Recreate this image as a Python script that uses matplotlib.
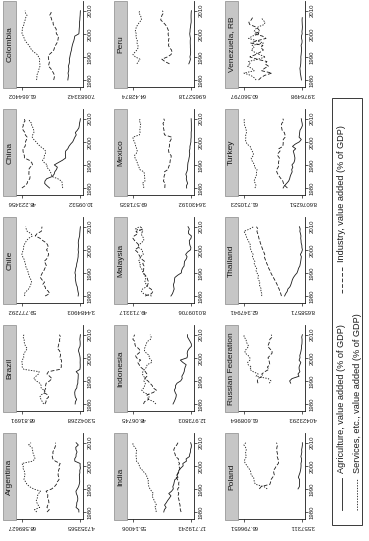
import matplotlib
matplotlib.use("Agg")
import matplotlib.pyplot as plt
from matplotlib.patches import Rectangle
from matplotlib.lines import Line2D

plt.rcParams['font.family'] = ['Liberation Sans', 'DejaVu Sans']

# value added, % of GDP (agriculture / industry / services)
arg_start = 1980
arg_agri = [6.4, 6.5, 9.5, 8.8, 8.7, 7.7, 7.6, 8.1, 9.2, 9.6, 8.1, 6.7, 6.0, 5.5, 5.6, 5.7, 5.9, 5.3, 5.4, 4.7353565,
            5.1, 5.0, 10.8, 11.0, 9.5, 9.4, 8.4, 9.6, 9.8, 7.0, 9.4]
arg_ind = [41.2, 38.7, 41.3, 40.3, 39.1, 39.4, 40.6, 40.3, 40.5, 42.2, 36.0, 33.0, 30.9, 30.1, 28.1, 28.3, 29.1, 28.9,
           28.6, 27.6, 28.0, 26.8, 32.1, 34.8, 35.5, 34.6, 34.8, 33.5, 32.5, 31.6, 31.9]
arg_serv = [52.4, 54.8, 49.2, 50.9, 52.2, 52.9, 51.8, 51.6, 50.3, 48.2, 55.9, 60.3, 63.1, 64.4, 66.3, 66.0, 65.0, 65.8,
            66.0, 67.7, 66.9, 68.589627, 57.1, 54.2, 55.0, 56.0, 56.8, 56.9, 57.7, 61.4, 58.7]

bra_start = 1980
bra_agri = [11.0, 10.7, 9.4, 10.8, 11.3, 11.5, 10.9, 9.2, 9.0, 8.1, 8.1, 7.8, 7.7, 7.6, 9.9, 5.8, 5.5, 5.5, 5.6, 5.5,
            5.6, 6.0, 6.6, 7.4, 6.9, 5.7, 5.5, 5.6, 5.9, 5.6, 5.3042268]
bra_ind = [43.8, 42.6, 42.6, 39.8, 40.9, 45.3, 43.9, 42.8, 43.1, 42.5, 38.7, 36.2, 38.7, 41.6, 40.0, 27.5, 26.0, 26.1,
           25.7, 25.9, 27.7, 26.9, 27.1, 27.9, 30.1, 29.3, 28.8, 27.8, 27.9, 26.8, 28.1]
bra_serv = [45.2, 46.7, 48.0, 49.4, 47.8, 43.2, 45.2, 48.0, 47.9, 49.4, 53.2, 56.0, 53.6, 50.8, 50.1, 66.7, 68.5, 68.4,
            68.81691, 68.6, 66.7, 67.1, 66.3, 64.7, 63.0, 65.0, 65.7, 66.6, 66.2, 67.6, 66.6]

chl_start = 1980
chl_agri = [5.6, 5.3, 5.8, 6.2, 6.5, 7.4, 7.8, 8.2, 8.4, 8.1, 8.7, 8.3, 7.9, 7.2, 7.0, 6.4, 6.0, 5.6, 5.6, 5.3,
            5.6, 5.4, 5.3, 5.5, 5.3, 4.8, 4.2, 4.1, 3.9, 3.7, 3.4484903]
chl_ind = [37.4, 33.2, 34.2, 36.9, 37.4, 39.7, 38.0, 40.4, 42.0, 41.2, 40.1, 38.6, 37.7, 36.2, 37.0, 38.3, 36.0, 34.9,
           34.0, 34.6, 36.1, 34.4, 34.9, 36.3, 39.7, 42.4, 46.9, 45.2, 41.1, 40.8, 40.4]
chl_serv = [57.0, 57.5, 55.6, 53.4, 52.1, 51.2, 50.5, 51.0, 52.3, 53.0, 53.6, 54.2, 55.3, 56.2, 56.5, 57.1, 57.8, 59.0,
            59.777292, 59.2, 58.4, 58.2, 57.8, 56.6, 55.3, 53.2, 49.6, 51.0, 54.7, 55.6, 56.2]

chn_start = 1980
chn_agri = [30.2, 31.9, 33.4, 33.2, 32.1, 28.4, 27.2, 26.8, 25.7, 25.1, 27.1, 24.5, 21.8, 19.7, 19.8, 19.9, 19.7, 18.3,
            17.6, 16.5, 15.1, 14.4, 13.7, 12.8, 13.4, 12.1, 11.1, 10.8, 10.7, 10.3, 10.09532]
chn_ind = [48.223456, 46.1, 44.8, 44.4, 43.1, 42.9, 43.7, 43.6, 43.8, 42.8, 41.3, 41.8, 43.4, 46.6, 46.6, 47.2, 47.5,
           47.5, 46.2, 45.8, 45.9, 45.2, 44.8, 46.0, 46.2, 47.4, 47.9, 47.3, 47.4, 46.2, 46.7]
chn_serv = [21.6, 22.0, 21.8, 22.4, 24.8, 28.7, 29.1, 29.6, 30.5, 32.1, 31.6, 33.7, 34.8, 33.7, 33.6, 32.9, 32.8, 34.2,
            36.2, 37.8, 39.0, 40.5, 41.5, 41.2, 40.4, 40.5, 40.9, 41.9, 41.8, 43.4, 43.2]

col_start = 1980
col_agri = [18.8, 18.5, 18.2, 18.6, 18.0, 17.9, 18.3, 17.6, 17.2, 17.4, 16.9, 16.5, 16.0, 15.4, 15.1, 14.6, 14.0, 13.2,
            12.7, 12.3, 8.5, 8.3, 8.2, 8.0, 7.9, 7.9, 7.6, 7.5, 7.3, 7.2, 7.0683342]
col_ind = [32.0, 31.5, 31.2, 32.2, 33.5, 34.8, 36.9, 36.4, 35.9, 36.8, 37.0, 36.2, 33.8, 31.9, 31.2, 30.3, 29.0, 28.2,
           27.8, 27.5, 29.5, 29.7, 29.6, 31.0, 32.4, 32.6, 33.8, 34.4, 35.8, 34.5, 34.2]
col_serv = [48.0, 47.5, 47.9, 46.8, 46.2, 45.5, 44.8, 44.9, 45.3, 45.0, 46.1, 47.3, 50.2, 52.7, 53.7, 55.1, 57.0, 58.6,
            59.5, 60.2, 61.664402, 61.4, 61.3, 60.8, 59.7, 59.5, 58.6, 58.1, 56.9, 58.3, 58.7]

ind_start = 1980
ind_agri = [35.4, 35.0, 33.9, 34.9, 33.8, 32.9, 31.8, 30.8, 32.2, 30.4, 29.3, 29.6, 29.0, 28.7, 28.3, 26.3, 27.1, 25.9,
            25.8, 24.5, 23.0, 23.2, 20.9, 21.1, 19.0, 18.8, 18.3, 18.3, 17.8, 17.719243, 18.2]
ind_ind = [24.3, 24.8, 24.9, 25.0, 25.4, 25.6, 26.0, 26.3, 25.8, 26.4, 26.5, 25.4, 25.9, 25.7, 26.6, 27.4, 26.6, 26.3,
           25.3, 25.1, 26.0, 25.3, 26.2, 26.0, 27.9, 28.1, 28.8, 29.0, 28.3, 27.1, 26.3]
ind_serv = [40.3, 40.2, 41.2, 40.1, 40.8, 41.5, 42.2, 42.9, 42.0, 43.2, 44.2, 45.0, 45.1, 45.6, 45.1, 46.3, 46.3, 47.8,
            48.9, 50.4, 51.0, 51.5, 52.9, 52.9, 53.1, 53.1, 52.9, 52.7, 53.9, 55.14006, 55.1]

idn_start = 1980
idn_agri = [24.0, 23.3, 22.7, 22.2, 22.0, 22.7, 23.2, 22.5, 22.5, 21.6, 19.4, 18.5, 18.7, 17.9, 17.3, 17.1, 16.7, 16.1,
            18.1, 19.6, 15.6, 15.3, 15.5, 15.2, 14.3, 12.973803, 13.0, 13.7, 14.5, 15.3, 15.3]
idn_ind = [41.7, 41.1, 38.6, 39.4, 39.6, 35.8, 34.0, 36.0, 36.5, 37.8, 39.1, 40.9, 39.7, 39.7, 40.6, 41.8, 43.5, 44.3,
           45.2, 43.4, 45.9, 46.5, 44.5, 43.7, 44.6, 46.5, 46.9, 46.8, 48.06745, 47.7, 47.0]
idn_serv = [34.3, 35.6, 38.7, 38.4, 38.4, 41.5, 42.8, 41.5, 41.0, 40.6, 41.5, 40.6, 41.6, 42.4, 42.1, 41.1, 39.8, 39.6,
            36.7, 37.0, 38.5, 38.2, 40.0, 41.1, 41.1, 40.5, 40.1, 39.5, 37.5, 37.1, 37.7]

mys_start = 1980
mys_agri = [22.6, 21.5, 20.9, 20.3, 20.6, 20.8, 20.2, 20.1, 19.8, 17.8, 15.2, 15.0, 14.4, 13.2, 13.1, 12.9, 11.7, 11.1,
            12.1, 10.8, 8.6, 8.4, 9.1, 9.4, 9.5, 8.3, 8.0109706, 10.0, 10.1, 9.5, 10.4]
mys_ind = [41.0, 36.4, 35.5, 36.8, 39.4, 39.1, 38.5, 39.2, 39.6, 40.9, 42.2, 42.1, 42.0, 41.8, 42.7, 41.4, 43.5, 44.6,
           45.6, 46.4, 48.3, 45.9, 45.3, 46.9, 48.5, 49.713317, 48.8, 46.2, 47.5, 42.5, 44.6]
mys_serv = [36.4, 42.1, 43.6, 42.9, 40.0, 40.1, 41.3, 40.7, 40.6, 41.3, 42.6, 42.9, 43.6, 45.0, 44.2, 45.7, 44.8, 44.3,
            42.3, 42.8, 43.1, 45.7, 45.6, 43.7, 42.0, 42.0, 43.2, 43.8, 42.4, 48.0, 45.0]

mex_start = 1980
mex_agri = [9.0, 9.2, 7.9, 8.8, 9.4, 9.1, 9.9, 8.8, 8.0, 7.9, 7.8, 7.5, 6.7, 6.3, 5.7, 5.6, 6.0, 5.3, 5.3, 4.7,
            4.2, 4.2, 3.9, 3.9, 3.9, 3.6430192, 3.7, 3.7, 3.7, 3.8, 3.9]
mex_ind = [33.6, 33.5, 33.2, 35.2, 34.4, 34.5, 33.6, 34.0, 30.1, 29.4, 28.4, 27.8, 27.5, 26.6, 26.4, 28.7, 29.3, 29.4,
           28.4, 28.4, 28.0, 26.6, 25.8, 33.9, 34.6, 34.5, 35.1, 34.9, 35.7, 33.7, 34.8]
mex_serv = [57.4, 57.3, 58.9, 56.0, 56.2, 56.4, 56.5, 57.2, 61.9, 62.7, 63.8, 64.7, 65.8, 67.1, 67.9, 65.7, 64.7, 65.3,
            66.3, 66.9, 67.8, 69.2, 69.571835, 62.2, 61.5, 61.9, 61.2, 61.4, 60.6, 62.5, 61.3]

per_start = 1987
per_agri = [9.5, 8.6, 7.9, 8.4, 7.9, 7.7, 7.8, 8.0, 8.0, 8.1, 8.1, 7.9, 8.3, 8.6, 8.3, 8.2, 7.8, 7.6, 7.2, 7.2,
            7.3, 7.3, 7.2, 6.9652718]
per_ind = [28.5, 33.0, 36.0, 30.5, 27.0, 26.0, 26.5, 28.5, 29.5, 29.0, 29.5, 29.0, 29.5, 29.9, 29.2, 30.1, 31.0, 32.6,
           34.8, 37.1, 36.6, 35.9, 34.4, 35.4]
per_serv = [60.5, 59.0, 57.5, 62.0, 64.42874, 62.5, 60.5, 59.2, 59.5, 60.4, 60.1, 61.0, 61.4, 61.0, 62.2, 61.5, 61.1,
            59.5, 58.0, 56.0, 56.3, 57.0, 58.6, 57.7]

pol_start = 1990
pol_agri = [8.3, 6.8, 6.8, 6.6, 6.6, 7.9, 7.1, 6.2, 5.6, 5.2, 5.0, 5.1, 4.5, 4.4, 5.2, 4.6, 4.2, 4.4, 3.9, 3.557311, 3.6]
pol_ind = [50.1, 48.1, 38.7, 37.9, 37.5, 35.8, 33.9, 34.5, 34.7, 33.0, 31.7, 29.6, 29.2, 30.0, 30.8, 30.4, 31.0, 31.4,
           31.1, 30.4, 31.6]
pol_serv = [41.6, 45.1, 54.5, 55.5, 55.9, 56.3, 59.0, 59.3, 59.7, 61.8, 63.3, 65.3, 66.3, 65.6, 64.0, 65.0, 64.8, 64.2,
            65.0, 66.796651, 64.8]

rus_start = 1989
rus_agri = [15.6, 16.6, 14.3, 7.4, 8.4, 6.5, 7.2, 7.3, 6.5, 5.6, 7.3, 6.4, 6.6, 5.9, 5.4, 5.0, 5.0, 4.5, 4.4, 4.4,
            4.7, 4.0423293]
rus_ind = [47.8, 48.4, 48.0, 43.0, 44.0, 41.0, 37.0, 38.5, 36.1, 36.5, 37.0, 37.9, 36.0, 33.9, 33.9, 36.3, 38.1, 37.2,
           36.4, 36.1, 33.7, 34.7]
rus_serv = [36.6, 35.0, 37.7, 49.6, 47.6, 52.5, 55.8, 54.2, 57.4, 57.9, 55.7, 55.7, 57.4, 60.2, 60.7, 58.7, 56.9, 58.3,
            59.2, 59.5, 61.608964, 61.3]

tha_start = 1980
tha_agri = [25.0, 24.0, 22.6, 22.0, 20.1, 19.2, 18.5, 17.9, 16.9, 15.4, 13.6, 12.8, 12.2, 11.0, 10.6, 10.2, 9.9, 9.6,
            10.5, 9.3, 8.658571, 9.1, 9.2, 9.8, 9.9, 10.2, 10.0, 10.4, 11.0, 10.7, 11.4]
tha_ind = [27.9, 28.5, 29.4, 30.0, 31.2, 31.9, 33.0, 34.1, 35.3, 36.5, 37.6, 38.4, 39.6, 40.2, 41.3, 42.0, 42.9, 43.6,
           43.2, 44.1, 45.0, 45.8, 46.5, 47.3, 47.8, 48.6, 49.0, 49.7, 50.4, 49.5, 50.8]
tha_serv = [46.1, 45.7, 47.0, 46.3, 47.5, 48.2, 47.6, 48.9, 49.6, 49.0, 50.4, 51.2, 50.6, 52.0, 52.9, 52.3, 53.6, 54.5,
            53.8, 55.1, 55.9, 56.8, 56.2, 57.4, 58.3, 59.6, 60.2, 61.0, 62.347941, 57.0, 53.5]

tur_start = 1980
tur_agri = [26.1, 24.9, 22.9, 21.1, 20.2, 19.7, 18.9, 17.9, 18.3, 17.3, 18.1, 16.3, 15.6, 15.4, 15.8, 16.3, 16.9, 14.7,
            17.6, 15.1, 11.3, 9.6, 11.6, 11.3, 11.1, 10.8, 9.5, 8.6076251, 8.8, 9.3, 9.6]
tur_ind = [22.2, 24.4, 25.8, 26.4, 28.0, 29.6, 30.9, 31.9, 31.9, 30.6, 29.9, 30.4, 29.8, 29.5, 31.0, 30.6, 28.9, 30.0,
           26.4, 26.1, 26.0, 26.0, 24.3, 24.4, 25.0, 27.0, 27.4, 27.8, 27.3, 25.6, 26.3]
tur_serv = [51.7, 50.7, 51.3, 52.5, 51.8, 50.7, 50.2, 50.2, 49.8, 52.1, 52.0, 53.3, 54.6, 55.1, 53.2, 53.1, 54.2, 55.3,
            56.0, 58.8, 59.8, 60.3, 59.9, 60.1, 59.4, 59.6, 60.1, 61.0, 61.2, 61.710523, 61.2]

ven_start = 1980
ven_agri = [4.9, 5.2, 5.6, 6.0, 6.1, 6.4, 5.9, 5.6, 5.5, 5.4, 5.5, 5.2, 5.0, 4.8, 4.9, 5.2, 4.4, 4.3, 4.8, 4.9,
            4.2, 4.4, 4.1, 3.976498, 4.1, 4.2, 4.3, 4.1]
ven_ind = [46.4, 44.1, 40.5, 33.5, 43.3, 40.8, 36.9, 40.1, 38.3, 47.7, 54.8, 49.2, 44.9, 41.7, 44.3, 42.2, 53.9, 47.8,
           39.2, 42.6, 50.4, 44.9, 46.5, 49.3, 54.9, 55.8, 53.5, 52.2]
ven_serv = [48.7, 50.7, 53.9, 60.560797, 50.6, 52.8, 57.2, 54.3, 56.2, 46.9, 39.7, 45.6, 50.1, 53.5, 50.8, 52.6, 41.7,
            47.9, 56.0, 52.5, 45.4, 50.7, 49.4, 46.7, 41.0, 40.0, 42.2, 43.7]

countries = ["Argentina", "Brazil", "Chile", "China", "Colombia",
             "India", "Indonesia", "Malaysia", "Mexico", "Peru",
             "Poland", "Russian Federation", "Thailand", "Turkey", "Venezuela, RB"]
panels = [
    (arg_start, arg_agri, arg_ind, arg_serv), (bra_start, bra_agri, bra_ind, bra_serv),
    (chl_start, chl_agri, chl_ind, chl_serv), (chn_start, chn_agri, chn_ind, chn_serv),
    (col_start, col_agri, col_ind, col_serv), (ind_start, ind_agri, ind_ind, ind_serv),
    (idn_start, idn_agri, idn_ind, idn_serv), (mys_start, mys_agri, mys_ind, mys_serv),
    (mex_start, mex_agri, mex_ind, mex_serv), (per_start, per_agri, per_ind, per_serv),
    (pol_start, pol_agri, pol_ind, pol_serv), (rus_start, rus_agri, rus_ind, rus_serv),
    (tha_start, tha_agri, tha_ind, tha_serv), (tur_start, tur_agri, tur_ind, tur_serv),
    (ven_start, ven_agri, ven_ind, ven_serv),
]
year_ticks = [1980, 1990, 2000, 2010]
legend_labels = ["Agriculture, value added (% of GDP)", "Industry, value added (% of GDP)",
                 "Services, etc., value added (% of GDP)"]

W, H = 369, 541
ink = '#1a1a1a'
styles = [dict(ls='-'), dict(ls=(0, (4.5, 2.2))), dict(ls=(0, (1.6, 1.6)))]


def frac(x, y, w, h):
    # pixel box (top-left origin) -> figure fraction
    return [x / W, 1 - (y + h) / H, w / W, h / H]


fig = plt.figure(figsize=(W / 100, H / 100), dpi=100)
fig.patch.set_facecolor('white')

col_step, row_step = 111, 108
for i, name in enumerate(countries):
    start, agri, ind, serv = panels[i]
    c = i // 5
    r = 4 - i % 5
    x0, y0 = col_step * c, row_step * r

    ax = fig.add_axes(frac(x0 + 16, y0 + 1, 66.7, 86))
    allv = agri + ind + serv
    vmin, vmax = min(allv), max(allv)
    span = vmax - vmin
    for vals, st in zip((agri, ind, serv), styles):
        yrs = list(range(start, start + len(vals)))
        ax.plot(vals, yrs, color=ink, lw=0.6, **st)
    ax.set_xlim(vmax + 5.9 * span / 58.5, vmin - 2.3 * span / 58.5)
    ax.set_ylim(1976.97, 2014.2)

    ax.set_xticks([vmin, vmax])
    ax.set_xticklabels([f"{vmin:.8g}", f"{vmax:.8g}"], rotation=180, fontsize=4.3)
    ax.yaxis.tick_right()
    ax.set_yticks(year_ticks)
    ax.set_yticklabels([str(y) for y in year_ticks], rotation=90, fontsize=4.3, va='center')
    ax.tick_params(length=2.2, width=0.5, pad=1.2, colors=ink)
    for s in ('left', 'top'):
        ax.spines[s].set_visible(False)
    for s in ('right', 'bottom'):
        ax.spines[s].set_linewidth(0.6)
        ax.spines[s].set_color(ink)
    ax.patch.set_alpha(0)

    # title strip
    bx, by, bw, bh = x0 + 3.3, y0 + 1, 12.7, 87
    fig.add_artist(Rectangle((bx / W, 1 - (by + bh) / H), bw / W, bh / H, transform=fig.transFigure,
                             facecolor='#c6c6c6', edgecolor='#8a8a8a', lw=0.5))
    fig.text((bx + bw / 2) / W, 1 - (by + bh / 2) / H, name, rotation=90, ha='center', va='center',
             fontsize=6, color=ink)

# legend
lx, ly, lw_, lh = 332, 98, 30, 427
fig.add_artist(Rectangle((lx / W, 1 - (ly + lh) / H), lw_ / W, lh / H, transform=fig.transFigure,
                         facecolor='white', edgecolor=ink, lw=0.6))
entries = [(342, 510, 478, legend_labels[0], styles[0]),
           (342, 293, 267, legend_labels[1], styles[1]),
           (357, 510, 478, legend_labels[2], styles[2])]
for ex, ya, yb, lab, st in entries:
    fig.add_artist(Line2D([ex / W, ex / W], [1 - ya / H, 1 - yb / H], transform=fig.transFigure,
                          color=ink, lw=0.6, **st))
    fig.text(ex / W, 1 - (yb - 5) / H, lab, rotation=90, ha='center', va='bottom', fontsize=6.6, color=ink)

fig.savefig("out.png", dpi=100)
